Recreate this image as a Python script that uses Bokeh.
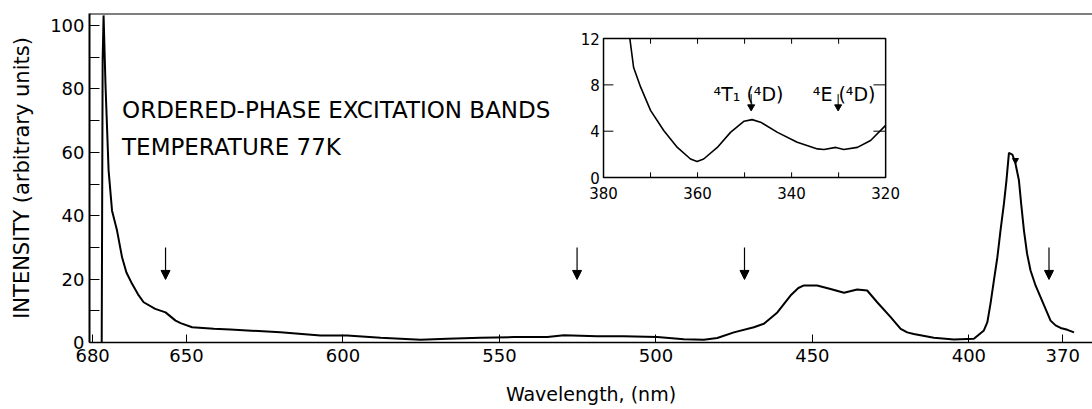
from bokeh.plotting import figure
from bokeh.models import Range1d, FixedTicker, ColumnDataSource, Arrow, NormalHead, Span
from bokeh.embed import file_html
from bokeh.resources import INLINE
from bokeh.core.properties import value

# ---------------- data ----------------
wavelength = [677.1, 676.8, 676.5, 675.9, 675.4, 674.9, 673.8, 672.2, 670.6, 669.2,
              667.4, 665.5, 663.7, 660.0, 656.7, 653.5, 651.9, 648.2, 641.3, 636.0,
              630.6, 620.0, 607.2, 598.7, 588.0, 575.2, 566.7, 556.1, 545.4, 534.7,
              529.4, 518.8, 510.3, 499.6, 491.1, 484.7, 480.4, 475.1, 468.7, 465.5,
              461.2, 457.0, 454.5, 452.7, 448.5, 444.2, 439.9, 435.7, 432.5, 429.3,
              425.0, 421.8, 419.7, 417.6, 411.2, 404.8, 398.4, 395.2, 394.1, 393.1,
              392.0, 390.9, 389.9, 388.8, 388.0, 387.2, 386.1, 385.1, 384.0, 383.3,
              382.4, 381.4, 380.3, 378.7, 377.1, 375.5, 373.9, 372.3, 370.7, 368.5,
              366.4]
intensity = [0.0, 89.0, 103.2, 81.6, 67.9, 54.3, 41.6, 35.3, 26.9, 22.1,
             18.5, 15.2, 12.7, 10.6, 9.5, 6.9, 6.1, 4.8, 4.3, 4.1,
             3.8, 3.2, 2.2, 2.2, 1.5, 0.85, 1.2, 1.5, 1.7, 1.7,
             2.3, 2.0, 2.0, 1.7, 1.05, 0.85, 1.4, 3.2, 4.8, 5.9,
             9.5, 14.8, 17.2, 18.0, 18.0, 16.9, 15.7, 16.7, 16.4, 12.7,
             8.0, 4.3, 3.2, 2.7, 1.5, 0.95, 1.2, 3.8, 6.4, 12.2,
             19.6, 26.9, 35.3, 43.8, 51.1, 59.8, 59.3, 56.4, 51.1, 43.8,
             35.3, 28.0, 22.7, 18.0, 14.3, 10.6, 6.9, 5.4, 4.6, 4.0,
             3.2]
marker_wavelengths = [656.7, 525.2, 471.7, 374.4]
peak_mark_wavelength = [385.1]
peak_mark_intensity = [57.5]
x_ticks = [680, 650, 600, 550, 500, 450, 400, 370]
y_ticks = [0, 20, 40, 60, 80, 100]
y_minor_ticks = [10, 30, 50, 70, 90]

inset_wavelength = [374.4, 373.6, 372.1, 370.0, 367.2, 364.3, 361.5, 360.1, 358.7,
                    355.8, 353.0, 350.1, 348.4, 346.6, 343.0, 338.8, 334.5, 333.1,
                    330.6, 328.9, 326.0, 323.2, 320.0]
inset_intensity = [12.0, 9.5, 7.8, 5.8, 4.06, 2.6, 1.6, 1.38, 1.6,
                   2.6, 3.9, 4.86, 5.0, 4.78, 3.9, 3.05, 2.47, 2.42,
                   2.6, 2.42, 2.6, 3.2, 4.5]
inset_x_range = (380, 320)
inset_y_range = (0, 12)
inset_x_ticks = [370, 360, 350, 340, 330]
inset_x_labels = [380, 360, 340, 320]
inset_y_ticks = [4, 8]
inset_y_labels = [0, 4, 8, 12]
inset_mark_wavelengths = [348.6, 330.1]
inset_mark_labels = ["\u2074T\u2081 (\u2074D)", "\u2074E (\u2074D)"]

FONT = "DejaVu Sans"

# ---------------- main figure ----------------
p = figure(width=1092, height=409,
           x_range=Range1d(681.0, 360.5), y_range=Range1d(0, 103.8),
           output_backend="svg", toolbar_location=None,
           min_border_left=89, min_border_top=13, min_border_right=0, min_border_bottom=67)
p.outline_line_color = None
p.grid.visible = False
p.background_fill_color = "white"
p.border_fill_color = "white"

xa = p.xaxis[0]
xa.ticker = FixedTicker(ticks=x_ticks)
xa.axis_line_width = 1.5
xa.major_tick_in = 8
xa.major_tick_out = 0
xa.minor_tick_in = 0
xa.minor_tick_out = 0
xa.major_label_standoff = 6
xa.major_label_text_font = FONT
xa.major_label_text_font_size = "18px"
xa.major_label_text_color = "black"
xa.axis_label = "Wavelength, (nm)"
xa.axis_label_text_font = FONT
xa.axis_label_text_font_size = "19px"
xa.axis_label_text_font_style = "normal"
xa.axis_label_text_color = "black"
xa.axis_label_standoff = 18

ya = p.yaxis[0]
ya.ticker = FixedTicker(ticks=y_ticks, minor_ticks=y_minor_ticks)
ya.axis_line_width = 2
ya.major_tick_in = 10
ya.major_tick_out = 0
ya.minor_tick_in = 10
ya.minor_tick_out = 0
ya.major_label_standoff = 5
ya.major_label_text_font = FONT
ya.major_label_text_font_size = "18px"
ya.major_label_text_color = "black"
ya.axis_label = "INTENSITY (arbitrary units)"
ya.axis_label_text_font = FONT
ya.axis_label_text_font_size = "21px"
ya.axis_label_text_font_style = "normal"
ya.axis_label_text_color = "black"
ya.axis_label_standoff = 13

p.add_layout(Span(location=103.8, dimension="width", line_color="black", line_width=2))

p.line(wavelength, intensity, line_color="black", line_width=2)
p.scatter(peak_mark_wavelength, peak_mark_intensity, marker="inverted_triangle", size=6,
          fill_color="black", line_color="black")

arrows = ColumnDataSource(dict(x0=marker_wavelengths, x1=marker_wavelengths,
                               y0=[30.0] * len(marker_wavelengths),
                               y1=[19.9] * len(marker_wavelengths)))
p.add_layout(Arrow(x_start="x0", y_start="y0", x_end="x1", y_end="y1", source=arrows,
                   line_color="black", line_width=1.2,
                   end=NormalHead(size=9, fill_color="black", line_color="black", line_width=1)))

p.text(x=[670.6], y=[73.4], text=["ORDERED-PHASE EXCITATION BANDS"],
       text_font=value(FONT), text_font_size="23px", text_color="black",
       text_align="left", text_baseline="alphabetic")
p.text(x=[670.6], y=[61.6], text=["TEMPERATURE  77K"],
       text_font=value(FONT), text_font_size="23px", text_color="black",
       text_align="left", text_baseline="alphabetic")

# ---------------- inset ----------------
sub = p.subplot(x_source=Range1d(*inset_x_range), y_source=Range1d(*inset_y_range),
                x_target=Range1d(516.75, 426.6), y_target=Range1d(52.05, 95.9))

sub.quad(left=[inset_x_range[0]], right=[inset_x_range[1]],
         bottom=[inset_y_range[0]], top=[inset_y_range[1]],
         fill_color="white", line_color="black", line_width=1.5)
n = len(inset_x_ticks)
sub.segment(x0=inset_x_ticks, y0=[inset_y_range[0]] * n, x1=inset_x_ticks, y1=[0.45] * n,
            line_color="black", line_width=1)
sub.segment(x0=inset_x_ticks, y0=[inset_y_range[1]] * n, x1=inset_x_ticks, y1=[11.55] * n,
            line_color="black", line_width=1)
m = len(inset_y_ticks)
sub.segment(x0=[inset_x_range[0]] * m, y0=inset_y_ticks, x1=[377.9] * m, y1=inset_y_ticks,
            line_color="black", line_width=1)
sub.segment(x0=[inset_x_range[1]] * m, y0=inset_y_ticks, x1=[322.6] * m, y1=inset_y_ticks,
            line_color="black", line_width=1)

sub.text(x=inset_x_labels, y=[-1.3] * len(inset_x_labels), text=[str(v) for v in inset_x_labels],
         text_font=value(FONT), text_font_size="15px", text_color="black",
         text_align="center", text_baseline="middle")
sub.text(x=[380.8] * len(inset_y_labels), y=inset_y_labels, text=[str(v) for v in inset_y_labels],
         text_font=value(FONT), text_font_size="15px", text_color="black",
         text_align="right", text_baseline="middle")

sub.line(inset_wavelength, inset_intensity, line_color="black", line_width=1.6)

k = len(inset_mark_wavelengths)
sub.segment(x0=inset_mark_wavelengths, y0=[7.2] * k, x1=inset_mark_wavelengths, y1=[6.2] * k,
            line_color="black", line_width=1)
sub.scatter(x=inset_mark_wavelengths, y=[6.1] * k, marker="inverted_triangle", size=7,
            fill_color="black", line_color="black")
sub.text(x=[356.6, 335.5], y=[7.25, 7.25], text=inset_mark_labels,
         text_font=value(FONT), text_font_size="19px", text_color="black",
         text_align="left", text_baseline="alphabetic")

open("out.html", "w").write(file_html(p, INLINE))
